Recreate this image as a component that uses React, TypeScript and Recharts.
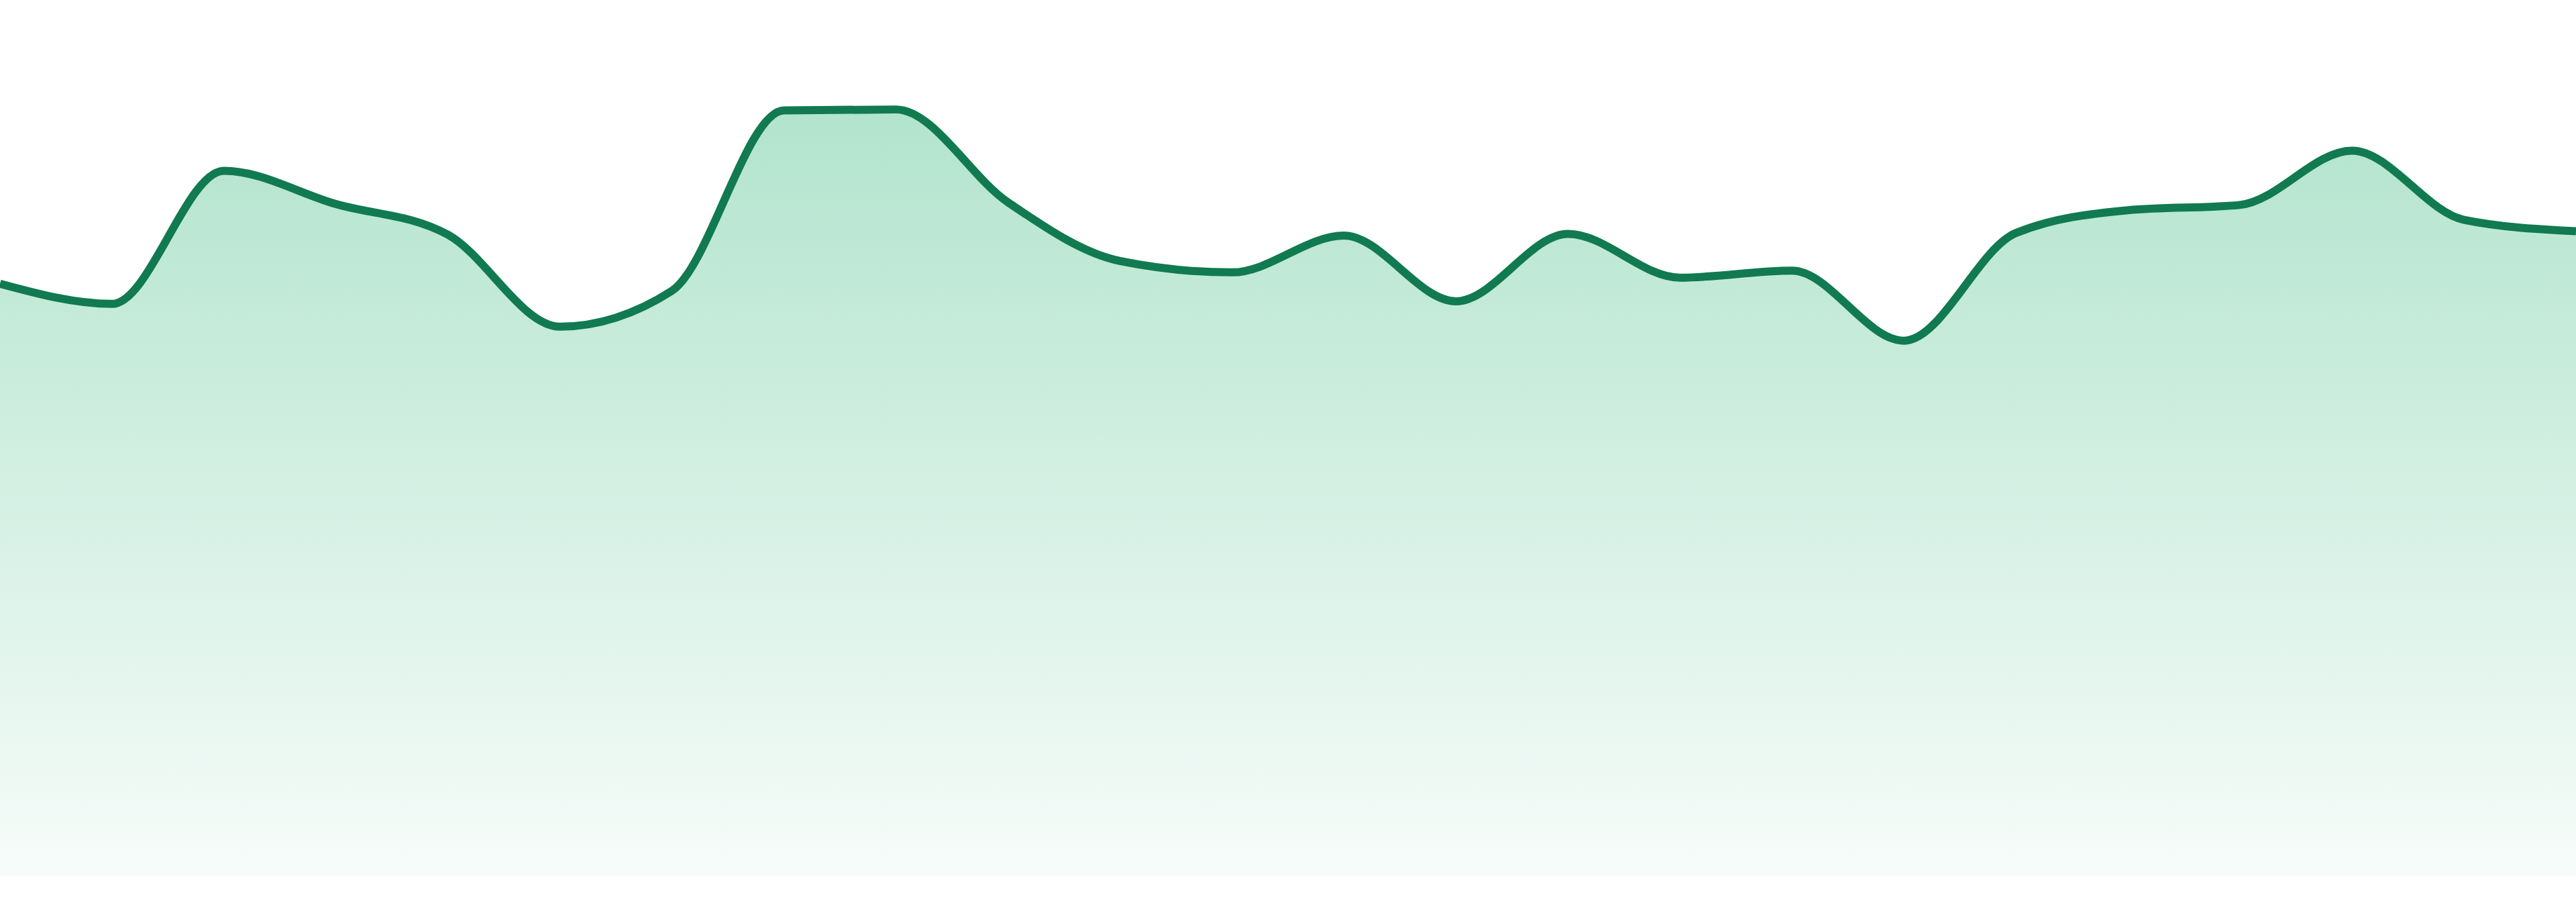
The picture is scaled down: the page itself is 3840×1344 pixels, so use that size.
import React from "react";
import { AreaChart, Area, XAxis, YAxis } from "recharts";

const categories = [
  "P01", "P02", "P03", "P04", "P05", "P06", "P07", "P08",
  "P09", "P10", "P11", "P12", "P13", "P14", "P15", "P16",
  "P17", "P18", "P19", "P20", "P21", "P22", "P23", "P24",
];

const values = [
  67.6, 65.3, 80.5, 76.7, 73.2, 62.7, 66.8, 87.4,
  87.5, 76.9, 70.2, 68.9, 73.1, 65.6, 73.3, 68.3,
  69.1, 61.1, 73.4, 76.0, 76.6, 82.8, 74.9, 73.6,
];

const yDomain = [0, 100];

const data = categories.map((name, i) => ({ name, value: values[i] }));

export default function App() {
  return (
    <div style={{ position: "absolute", left: 0, top: 0, width: 3840, height: 1344, background: "#ffffff" }}>
      <AreaChart
        width={3840}
        height={1344}
        data={data}
        margin={{ top: 0, right: 0, bottom: 39, left: 0 }}
      >
        <defs>
          <linearGradient id="areaFill" x1="0" y1="0" x2="0" y2="1">
            <stop offset="0%" stopColor="#2fb57a" stopOpacity={0.37} />
            <stop offset="100%" stopColor="#2fb57a" stopOpacity={0.04} />
          </linearGradient>
        </defs>
        <XAxis dataKey="name" hide />
        <YAxis hide domain={yDomain} />
        <Area
          type="monotone"
          dataKey="value"
          stroke="#117a50"
          strokeWidth={12}
          fill="url(#areaFill)"
          fillOpacity={1}
          isAnimationActive={false}
          dot={false}
          activeDot={false}
        />
      </AreaChart>
    </div>
  );
}
